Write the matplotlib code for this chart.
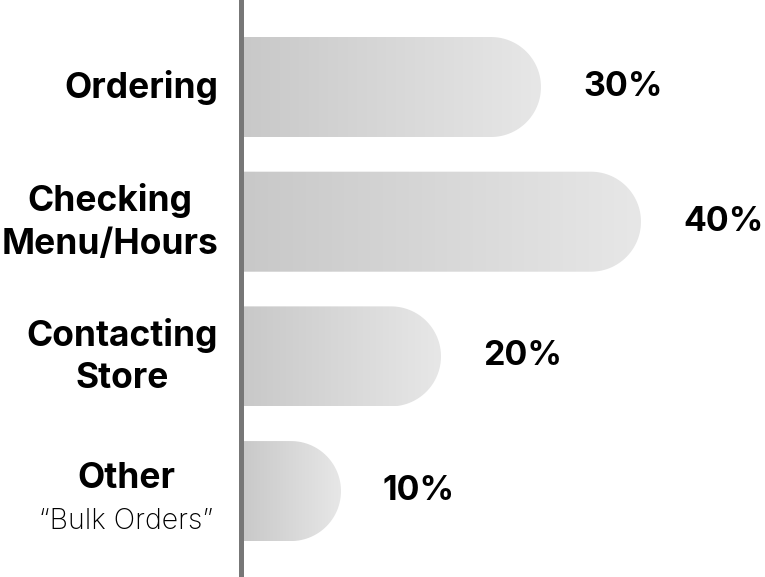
import numpy as np
import matplotlib.pyplot as plt
from matplotlib.path import Path
from matplotlib.patches import PathPatch
from matplotlib.colors import LinearSegmentedColormap

plt.rcParams['font.family'] = ['Inter', 'DejaVu Sans']

categories = ['Ordering', 'Checking\nMenu/Hours', 'Contacting\nStore', 'Other']
subtitles = ['', '', '', '\u201cBulk Orders\u201d']
values = [30, 40, 20, 10]

fig = plt.figure(figsize=(7.65, 5.77), dpi=100)
ax = fig.add_axes([0, 0, 1, 1])
ax.set_xlim(-24.1, 52.4)
ax.set_ylim(3.638, -0.646)
ax.axis('off')

cmap = LinearSegmentedColormap.from_list('bar', ['#c8c8c8', '#e7e7e7'])
grad = np.linspace(0, 1, 256).reshape(1, -1)
h = 0.7425      # bar height in data units
rx = 5.0        # radius of the round end, x units
ry = h / 2

for i, (cat, sub, v) in enumerate(zip(categories, subtitles, values)):
    # rectangle with semicircular right end
    t = np.linspace(np.pi / 2, -np.pi / 2, 60)
    xs = np.concatenate([[0, v - rx], v - rx + rx * np.cos(t), [v - rx, 0]])
    ys = np.concatenate([[i - ry, i - ry], i - ry * np.sin(t), [i + ry, i + ry]])
    verts = np.column_stack([xs, ys])
    patch = PathPatch(Path(verts), facecolor='none', edgecolor='none')
    ax.add_patch(patch)
    im = ax.imshow(grad, cmap=cmap, aspect='auto', extent=[0, v, i + ry, i - ry],
                   zorder=1)
    im.set_clip_path(patch)

    ax.text(v + 4.2, i, '%d%%' % v, fontsize=24.5, fontweight='bold',
            ha='left', va='center', color='black')

    if sub:
        # two lines in different fonts, centred on each other
        ax.annotate(cat, (-2.3, i), xytext=(-66, 2.2), textcoords='offset points',
                    fontsize=25.5, fontweight='bold', ha='center', va='baseline',
                    annotation_clip=False)
        ax.annotate(sub, (-2.3, i), xytext=(-66, -27.4), textcoords='offset points',
                    fontsize=20.5, fontweight='light', ha='center', va='baseline',
                    annotation_clip=False)
    else:
        ax.text(-2.3, i, cat, fontsize=25.5, fontweight='bold', ha='right',
                va='center', multialignment='center', linespacing=1.37,
                clip_on=False)

ax.axvline(0, color='#777777', linewidth=3.6, zorder=3)

fig.savefig('out.png', dpi=100)
